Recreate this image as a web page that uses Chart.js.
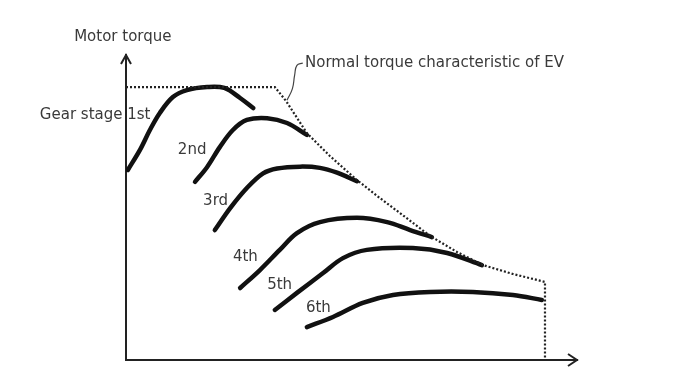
<!DOCTYPE html>
<html>
<head>
<meta charset="utf-8">
<script src="https://cdn.jsdelivr.net/npm/chart.js@4.4.1/dist/chart.umd.min.js"></script>
<style>
  html, body { margin: 0; padding: 0; background: #fff; }
  #wrap { width: 678px; height: 378px; }
</style>
</head>
<body>
<div id="wrap"><canvas id="torque"></canvas></div>
<script>
// speed (0-100) / torque (0-100), schematic values
var evSpeed  = [0, 33.0, 35.5, 40.1, 45.2, 51.2, 56.3, 61.9, 67.4, 73.4, 79.2, 85.8, 92.9, 92.9];
var evTorque = [89.5, 89.5, 84.9, 74.4, 66.9, 59.0, 53.1, 46.9, 40.7, 35.4, 31.1, 28.2, 25.6, 0];

var gear1Speed  = [0.4, 3.1, 5.3, 7.5, 10.4, 13.5, 18.0, 21.8, 25.3, 28.2];
var gear1Torque = [62.3, 68.9, 75.4, 81.0, 86.2, 88.5, 89.5, 89.2, 85.9, 82.6];
var gear2Speed  = [15.3, 18.0, 20.8, 23.7, 26.8, 31.3, 35.7, 40.1];
var gear2Torque = [58.4, 63.3, 69.8, 75.4, 78.7, 79.3, 77.7, 73.8];
var gear3Speed  = [19.7, 23.1, 26.8, 30.4, 33.5, 38.6, 43.0, 46.8, 51.2];
var gear3Torque = [42.6, 49.8, 56.4, 61.2, 62.8, 63.4, 63.0, 61.4, 58.6];
var gear4Speed  = [25.3, 29.7, 34.1, 37.9, 43.0, 51.2, 57.9, 63.0, 67.8];
var gear4Torque = [23.6, 29.5, 36.1, 41.6, 45.2, 46.6, 45.2, 42.6, 40.3];
var gear5Speed  = [33.0, 37.9, 43.7, 48.1, 53.4, 63.6, 71.2, 78.9];
var gear5Torque = [16.4, 22.0, 28.5, 33.4, 36.1, 36.7, 35.1, 31.1];
var gear6Speed  = [40.1, 45.9, 52.5, 59.2, 67.4, 76.9, 85.8, 92.2];
var gear6Torque = [10.8, 14.1, 18.7, 21.3, 22.3, 22.3, 21.3, 19.7];

var leaderSpeed  = [39.2, 37.9, 37.4, 36.9, 35.7];
var leaderTorque = [97.4, 96.6, 93.5, 89.0, 85.2];

var gearNames = ['Gear stage 1st', '2nd', '3rd', '4th', '5th', '6th'];
var yTitle = 'Motor torque';
var evName = 'Normal torque characteristic of EV';

function pts(xs, ys){
  var out = [];
  for(var i = 0; i < xs.length; i++){
    out.push({x: xs[i], y: ys[i]});
  }
  return out;
}

var gearSets = [
  [gear1Speed, gear1Torque], [gear2Speed, gear2Torque], [gear3Speed, gear3Torque],
  [gear4Speed, gear4Torque], [gear5Speed, gear5Torque], [gear6Speed, gear6Torque]
];

var datasets = [{
  label: evName,
  data: pts(evSpeed, evTorque),
  borderColor: '#222',
  borderWidth: 2.2,
  borderDash: [2, 2],
  tension: 0,
  pointRadius: 0
}, {
  label: 'leader',
  data: pts(leaderSpeed, leaderTorque),
  borderColor: '#444',
  borderWidth: 1.2,
  tension: 0.45,
  pointRadius: 0
}];
for(var g = 0; g < gearSets.length; g++){
  datasets.push({
    label: gearNames[g],
    data: pts(gearSets[g][0], gearSets[g][1]),
    borderColor: '#111',
    borderWidth: 4.5,
    borderCapStyle: 'round',
    borderJoinStyle: 'round',
    tension: 0.35,
    pointRadius: 0
  });
}

// text placement, in axis units (left edge, vertical middle)
var textSpots = [
  {text: yTitle, x: -11.5, y: 105.9},
  {text: evName, x: 39.7, y: 97.4},
  {text: gearNames[0], x: -19.1, y: 80.3},
  {text: gearNames[1], x: 11.5, y: 68.9},
  {text: gearNames[2], x: 17.1, y: 52.1},
  {text: gearNames[3], x: 23.7, y: 33.8},
  {text: gearNames[4], x: 31.3, y: 24.6},
  {text: gearNames[5], x: 39.9, y: 17.0}
];

var sketchBits = {
  id: 'sketchBits',
  afterDraw: function(chart){
    var ctx = chart.ctx, a = chart.chartArea;
    var xs = chart.scales.x, ys = chart.scales.y;
    ctx.save();
    // arrow heads
    ctx.strokeStyle = '#222';
    ctx.lineWidth = 2;
    ctx.lineJoin = 'miter';
    ctx.beginPath();
    ctx.moveTo(a.left - 5, a.top + 9);
    ctx.lineTo(a.left, a.top);
    ctx.lineTo(a.left + 5, a.top + 9);
    ctx.moveTo(a.right - 9, a.bottom - 6);
    ctx.lineTo(a.right, a.bottom);
    ctx.lineTo(a.right - 9, a.bottom + 6);
    ctx.stroke();
    // labels
    ctx.fillStyle = '#3a3a3a';
    ctx.font = '15px "DejaVu Sans", Verdana, sans-serif';
    ctx.textBaseline = 'middle';
    ctx.textAlign = 'left';
    textSpots.forEach(function(t){
      ctx.fillText(t.text, xs.getPixelForValue(t.x), ys.getPixelForValue(t.y));
    });
    ctx.restore();
  }
};

var ctx = document.getElementById('torque');
var chart = new Chart(ctx, {
  type: 'line',
  data: { datasets: datasets },
  options: {
    responsive: true,
    maintainAspectRatio: false,
    animation: false,
    layout: { padding: { left: 126, top: 55, right: 101, bottom: 18 } },
    plugins: { legend: { display: false }, tooltip: { enabled: false } },
    scales: {
      x: {
        type: 'linear', min: 0, max: 100,
        grid: { display: false, drawTicks: false },
        ticks: { display: false, padding: 0 },
        border: { display: true, color: '#222', width: 2 }
      },
      y: {
        type: 'linear', min: 0, max: 100,
        grid: { display: false, drawTicks: false },
        ticks: { display: false, padding: 0 },
        border: { display: true, color: '#222', width: 2 }
      }
    }
  },
  plugins: [sketchBits]
});
</script>
</body>
</html>
